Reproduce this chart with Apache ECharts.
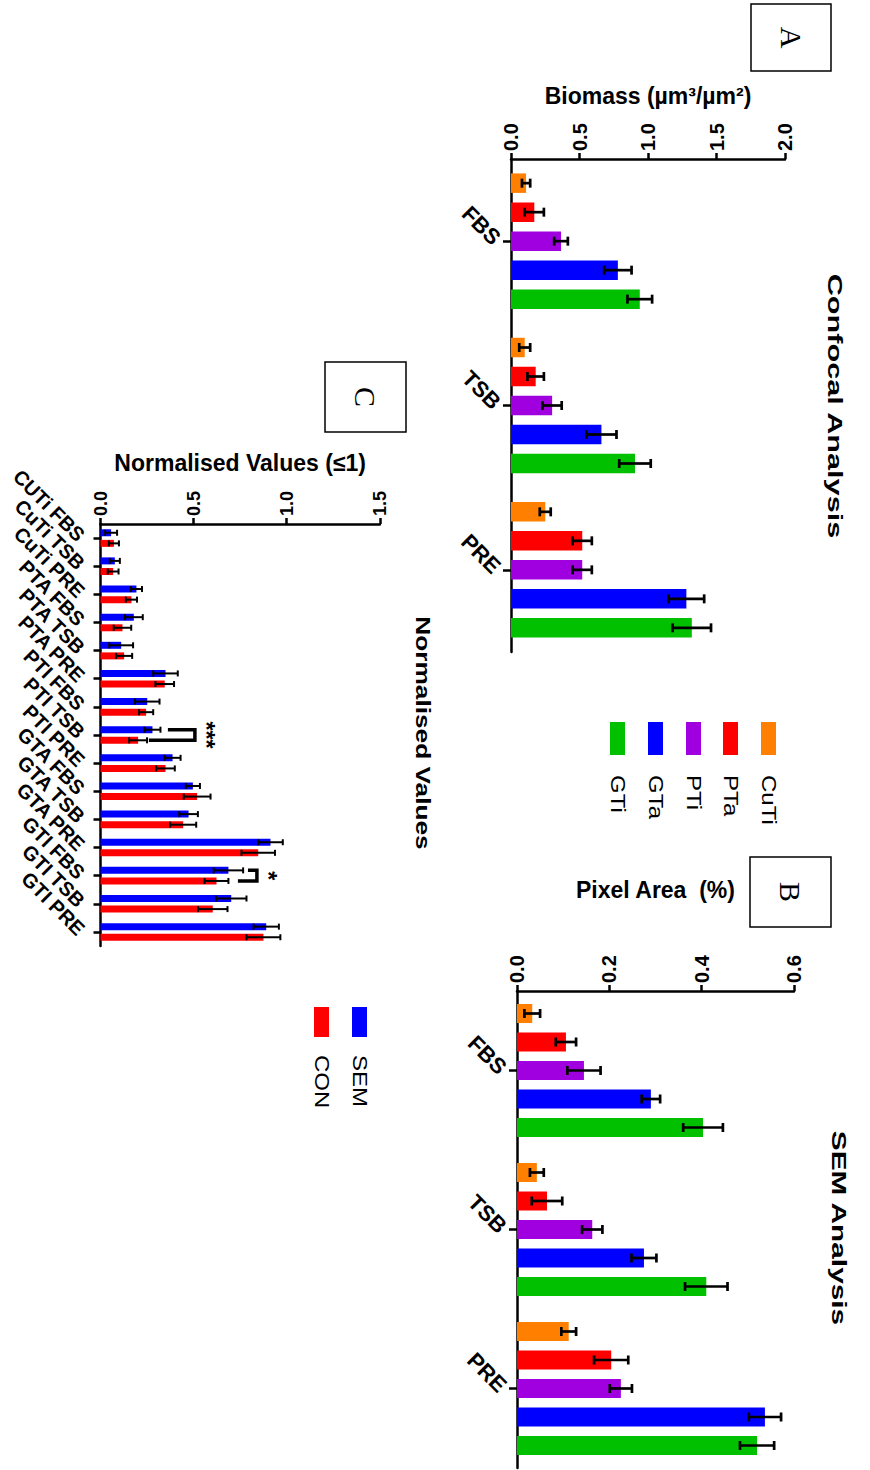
<!DOCTYPE html>
<html><head><meta charset="utf-8">
<script src="https://cdn.jsdelivr.net/npm/echarts@6/dist/echarts.min.js"></script>
<style>html,body{margin:0;padding:0;background:#fff}#chart{width:870px;height:1470px}</style>
</head><body><div id="chart"></div>
<script>
// ---------- data ----------
const groups = ['FBS', 'TSB', 'PRE'];
const materials = ['CuTi', 'PTa', 'PTi', 'GTa', 'GTi'];
const materialColors = ['#FF8000', '#FF0000', '#A000E0', '#0000FF', '#00C000'];

// Panel A: Confocal biomass (µm3/µm2), one array per material over FBS, TSB, PRE
const confocalMeans = [
  [0.11, 0.10, 0.25],   // CuTi
  [0.17, 0.18, 0.52],   // PTa
  [0.365, 0.30, 0.52],  // PTi
  [0.78, 0.66, 1.28],   // GTa
  [0.94, 0.905, 1.32]   // GTi
];
const confocalErrs = [
  [0.03, 0.04, 0.04],
  [0.07, 0.06, 0.07],
  [0.05, 0.07, 0.07],
  [0.10, 0.11, 0.13],
  [0.09, 0.115, 0.14]
];
const confocalTicks = [0, 0.5, 1.0, 1.5, 2.0];

// Panel B: SEM pixel area (%)
const semMeans = [
  [0.033, 0.043, 0.112],
  [0.106, 0.065, 0.204],
  [0.145, 0.163, 0.225],
  [0.290, 0.275, 0.537],
  [0.403, 0.410, 0.520]
];
const semErrs = [
  [0.017, 0.015, 0.016],
  [0.022, 0.033, 0.037],
  [0.036, 0.022, 0.024],
  [0.020, 0.027, 0.035],
  [0.043, 0.046, 0.037]
];
const semTicks = [0, 0.2, 0.4, 0.6];

// Panel C: normalised values
const normCats = ['CUTi FBS', 'CuTi TSB', 'CuTi PRE', 'PTA FBS', 'PTA TSB', 'PTA PRE',
  'PTI FBS', 'PTI TSB', 'PTI PRE', 'GTA FBS', 'GTA TSB', 'GTA PRE', 'GTI FBS', 'GTI TSB', 'GTI PRE'];
const normSeries = ['SEM', 'CON'];
const normColors = ['#0000FF', '#FF0000'];
const normSEM = [0.057, 0.077, 0.193, 0.179, 0.111, 0.349, 0.251, 0.279, 0.387, 0.496, 0.473, 0.913, 0.687, 0.702, 0.890];
const normSEMErr = [0.032, 0.027, 0.030, 0.048, 0.064, 0.066, 0.066, 0.043, 0.043, 0.038, 0.050, 0.066, 0.079, 0.082, 0.068];
const normCON = [0.072, 0.068, 0.166, 0.118, 0.127, 0.345, 0.245, 0.202, 0.349, 0.519, 0.444, 0.847, 0.623, 0.603, 0.875];
const normCONErr = [0.027, 0.029, 0.030, 0.047, 0.043, 0.050, 0.038, 0.048, 0.050, 0.072, 0.070, 0.090, 0.064, 0.079, 0.091];
const normTicks = [0, 0.5, 1.0, 1.5];

// significance brackets: [category index, top start value, bottom start value, end value]
const sigBrackets = [[7, 0.362, 0.260, 0.507], [12, 0.792, 0.738, 0.840]];
const sigLabels = ['***', '*'];

// ---------- helpers ----------
const FONT = "'Liberation Sans', Arial, sans-serif";
const SERIF = "'Liberation Serif', 'Times New Roman', serif";
const BLACK = '#000';

function valueAxis(gi, ticks, name, nameGap, labelSize) {
  return {
    gridIndex: gi, type: 'value', position: 'top',
    min: ticks[0], max: ticks[ticks.length - 1], interval: ticks[1] - ticks[0],
    axisLine: { show: true, lineStyle: { color: BLACK, width: 2.5 } },
    axisTick: { show: true, length: 6, lineStyle: { color: BLACK, width: 2.5 } },
    splitLine: { show: false },
    axisLabel: { rotate: -90, margin: 8, fontSize: labelSize, fontWeight: 'bold', color: BLACK,
      fontFamily: FONT, formatter: v => v.toFixed(1) },
    name: name, nameLocation: 'middle', nameGap: nameGap,
    nameTextStyle: { fontSize: 23, fontWeight: 'bold', color: BLACK, fontFamily: FONT }
  };
}
function catAxis(gi, cats, labelSize, tickLen, margin) {
  return {
    gridIndex: gi, type: 'category', data: cats, inverse: true,
    axisLine: { show: true, lineStyle: { color: BLACK, width: 2.5 } },
    axisTick: { show: true, alignWithLabel: true, length: tickLen, lineStyle: { color: BLACK, width: 2.5 } },
    axisLabel: { rotate: -45, margin: margin, fontSize: labelSize, fontWeight: 'bold', color: BLACK,
      fontFamily: FONT, interval: 0 },
    splitLine: { show: false }
  };
}
function errSeries(gi, means, errs, sIdx, nS, barW, gap, capH, lw) {
  return {
    type: 'custom', xAxisIndex: gi, yAxisIndex: gi, z: 10, silent: true,
    data: means.map((m, i) => [i, m, errs[i]]),
    encode: { x: 1, y: 0 },
    renderItem: (params, api) => {
      const cat = api.value(0), m = api.value(1), e = api.value(2);
      const off = (sIdx - (nS - 1) / 2) * (barW + gap);
      const p0 = api.coord([m - e, cat]);
      const p1 = api.coord([m + e, cat]);
      const y = p0[1] + off;
      const st = { stroke: BLACK, lineWidth: lw };
      return { type: 'group', children: [
        { type: 'line', shape: { x1: p0[0], y1: y, x2: p1[0], y2: y }, style: st },
        { type: 'line', shape: { x1: p0[0], y1: y - capH / 2, x2: p0[0], y2: y + capH / 2 }, style: st },
        { type: 'line', shape: { x1: p1[0], y1: y - capH / 2, x2: p1[0], y2: y + capH / 2 }, style: st }
      ]};
    }
  };
}

const BW_A = 19.5, GAP_A = 9.5;
const BW_B = 19, GAP_B = 9.5;
const BW_C = 7, GAP_C = 3.6;

const series = [];
materials.forEach((mName, k) => {
  series.push({ type: 'bar', name: mName, xAxisIndex: 0, yAxisIndex: 0, data: confocalMeans[k],
    barWidth: BW_A, barGap: (GAP_A / BW_A * 100) + '%', itemStyle: { color: materialColors[k] }, silent: true });
});
materials.forEach((mName, k) => {
  series.push(errSeries(0, confocalMeans[k], confocalErrs[k], k, 5, BW_A, GAP_A, 9, 2.7));
});
materials.forEach((mName, k) => {
  series.push({ type: 'bar', name: mName, xAxisIndex: 1, yAxisIndex: 1, data: semMeans[k],
    barWidth: BW_B, barGap: (GAP_B / BW_B * 100) + '%', itemStyle: { color: materialColors[k] }, silent: true });
});
materials.forEach((mName, k) => {
  series.push(errSeries(1, semMeans[k], semErrs[k], k, 5, BW_B, GAP_B, 9, 2.7));
});
const normData = [normSEM, normCON];
const normErr = [normSEMErr, normCONErr];
normSeries.forEach((sName, k) => {
  series.push({ type: 'bar', name: sName, xAxisIndex: 2, yAxisIndex: 2, data: normData[k],
    barWidth: BW_C, barGap: (GAP_C / BW_C * 100) + '%', itemStyle: { color: normColors[k] }, silent: true });
});
normSeries.forEach((sName, k) => {
  series.push(errSeries(2, normData[k], normErr[k], k, 2, BW_C, GAP_C, 6, 2));
});
series.push({
  type: 'custom', xAxisIndex: 2, yAxisIndex: 2, z: 12, silent: true,
  data: sigBrackets,
  encode: { x: [1, 2, 3], y: 0 },
  renderItem: (params, api) => {
    const cat = api.value(0);
    const off = (BW_C + GAP_C) / 2;
    const pt = api.coord([api.value(1), cat]);
    const pb = api.coord([api.value(2), cat]);
    const pe = api.coord([api.value(3), cat]);
    const yT = pt[1] - off, yB = pt[1] + off;
    return { type: 'group', children: [
      { type: 'polyline', shape: { points: [[pt[0], yT], [pe[0], yT], [pe[0], yB], [pb[0], yB]] },
        style: { stroke: BLACK, lineWidth: 3.5, fill: 'none' } },
      { type: 'text', x: pe[0] + 11, y: pt[1], rotation: -Math.PI / 2,
        style: { text: sigLabels[params.dataIndex], fontSize: 23, fontWeight: 'bold', fontFamily: FONT, fill: BLACK,
          align: 'center', verticalAlign: 'middle' } }
    ]};
  }
});

// ---------- decorations (titles, legends, panel letters) ----------
const graphic = [];
function rotText(x, y, text, size, weight, scaleX, align, family) {
  graphic.push({ type: 'text', x: x, y: y, rotation: -Math.PI / 2, scaleX: scaleX, scaleY: 1,
    style: { text: text, fontSize: size, fontWeight: weight, fontFamily: family || FONT, fill: BLACK,
      align: align, verticalAlign: 'middle' } });
}
function box(x, y, w, h, letter) {
  graphic.push({ type: 'rect', shape: { x: x, y: y, width: w, height: h },
    style: { stroke: BLACK, lineWidth: 1.5, fill: 'none' } });
  rotText(x + w / 2, y + h / 2, letter, 30, 'normal', 1, 'center', SERIF);
}
box(751, 4, 80, 67, 'A');
box(750, 857, 81, 70, 'B');
box(325, 362, 81, 70, 'C');
rotText(835, 406, 'Confocal Analysis', 21, 'bold', 1.46, 'center');
rotText(839, 1228, 'SEM Analysis', 21, 'bold', 1.42, 'center');
rotText(424, 733, 'Normalised Values', 21, 'bold', 1.25, 'center');

// legend A (GTi at left ... CuTi at right)
const legXA = [610, 648, 686, 723, 761];
for (let i = 0; i < 5; i++) {
  const k = 4 - i;
  graphic.push({ type: 'rect', shape: { x: legXA[i], y: 722, width: 15, height: 33 },
    style: { fill: materialColors[k] } });
  rotText(legXA[i] + 7.5, 775, materials[k], 20, 'normal', 1.2, 'left');
}
// legend C
const legXC = [352, 314];
for (let k = 0; k < 2; k++) {
  graphic.push({ type: 'rect', shape: { x: legXC[k], y: 1007, width: 15, height: 30 },
    style: { fill: normColors[k] } });
  rotText(legXC[k] + 7.5, 1055, normSeries[k], 20, 'normal', 1.2, 'left');
}

const option = {
  animation: false,
  backgroundColor: '#fff',
  textStyle: { fontFamily: FONT },
  grid: [
    { left: 511, top: 159, width: 274, height: 493 },
    { left: 517, top: 991, width: 277, height: 477 },
    { left: 100.5, top: 524, width: 279.3, height: 422 }
  ],
  xAxis: [
    valueAxis(0, confocalTicks, 'Biomass (µm³/µm²)', 52, 20),
    valueAxis(1, semTicks, 'Pixel Area  (%)', 90, 20),
    valueAxis(2, normTicks, 'Normalised Values (\u22641)', 50, 18)
  ],
  yAxis: [
    catAxis(0, groups, 22, 8, 14),
    catAxis(1, groups, 22, 8, 14),
    catAxis(2, normCats, 20, 7, 19)
  ],
  series: series,
  graphic: graphic
};
const chart = echarts.init(document.getElementById('chart'), null, { renderer: 'svg' });
chart.setOption(option);
</script>
</body></html>
